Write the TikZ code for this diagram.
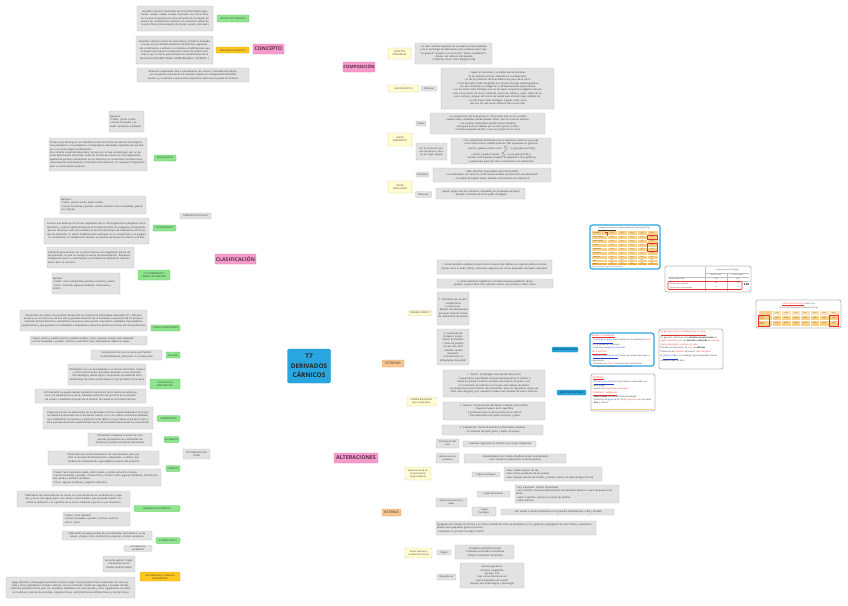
\documentclass[tikz,border=0pt]{standalone}
\usepackage{fontspec}
\setmainfont{Open Sans}
\usetikzlibrary{calc}
\pgfdeclarelayer{bg}
\pgfsetlayers{bg,main}
\definecolor{txt}{HTML}{333333}
\definecolor{linec}{HTML}{BBBBBB}
\definecolor{gfill}{HTML}{E2E2E2}
\definecolor{gbord}{HTML}{BDBDBD}
\definecolor{grf}{HTML}{8FE68F}
\definecolor{grb}{HTML}{5DBF5D}
\definecolor{yef}{HTML}{FFFCD2}
\definecolor{yeb}{HTML}{D6CF98}
\definecolor{orf}{HTML}{F9C68E}
\definecolor{orb}{HTML}{DDA060}
\definecolor{auf}{HTML}{FFC71F}
\definecolor{aub}{HTML}{DDA500}
\definecolor{pkf}{HTML}{F59BCA}
\definecolor{pkb}{HTML}{DE7DB2}
\definecolor{pkt}{HTML}{5A2E4C}
\definecolor{bluef}{HTML}{29A6DF}
\definecolor{blueb}{HTML}{1E8FC4}
\definecolor{tabor}{HTML}{F8CF86}
\definecolor{tabor2}{HTML}{F0AE3C}
\definecolor{redc}{HTML}{E8312A}
\definecolor{linkb}{HTML}{2040D0}
\newcommand\mmlink[3]{\draw[conn] (#1.center) .. controls (#1.center |- #2.#3) .. (#2.#3);}
\newcommand\tnytxt{\fontsize{2.4}{3.4}\selectfont}
\begin{document}
\begin{tikzpicture}[x=1pt,y=-1pt,
  conn/.style={draw=linec, line width=0.4pt},
  mm/.style={rounded corners=1.2pt, line width=0.35pt, text=txt},
  gbox/.style={mm, draw=gbord, fill=gfill, inner xsep=1pt, inner ysep=0.6pt, font=\tnytxt, align=center},
  gboxl/.style={gbox, align=left},
  wh/.style 2 args={text width=#1pt, minimum height=#2pt},
  sz/.style 2 args={minimum width=#1pt, minimum height=#2pt},
  lab/.style={mm, inner sep=0.4pt, font=\fontsize{2.3}{2.9}\selectfont, align=center},
  glab/.style={lab, draw=grb, fill=grf},
  ylab/.style={lab, draw=yeb, fill=yef},
  olab/.style={lab, draw=orb, fill=orf, font=\fontsize{3.3}{4}\selectfont},
  aulab/.style={lab, draw=aub, fill=auf},
  slab/.style={lab, draw=gbord, fill=gfill},
  pink/.style={mm, draw=pkb, fill=pkf, inner sep=0.5pt, text=pkt},
  blab/.style={lab, draw=blueb, fill=bluef, text=black},
  panel/.style={draw=gbord, line width=0.9pt, rounded corners=2pt, fill=white, inner sep=0pt},
  ptxt/.style={font=\fontsize{2.1}{2.9}\selectfont, text=txt, align=left, inner sep=0pt, anchor=north west},
]
\useasboundingbox (0,0) rectangle (848,605);
\fill[white] (0,0) rectangle (848,605);

% ---------- centre
\node[rounded corners=2pt, fill=bluef, draw=blueb, line width=0.3pt, minimum width=42pt, minimum height=34pt, align=center,
  font=\fontsize{6.4}{9.6}\selectfont\bfseries, text=black!85] (t7) at (309,366) {T7\\DERIVADOS\\CÁRNICOS};

% ---------- CONCEPTO
\node[pink, sz={31}{10}, font=\fontsize{5.1}{6}\selectfont\bfseries] (concepto) at (268.5,49) {CONCEPTO};
\node[glab, sz={32}{7}] (prodc) at (233,18.5) {PRODUCTOS CÁRNICOS};
\node[aulab, sz={33}{6}] (prepc) at (232.5,50) {PREPARADOS CÁRNICOS};
\node[gbox, wh={74}{25}] (a1) at (175,18.5) {derivados cárnicos resultantes de la transformación (ppalmente. secado, salado, curado, marinado, etc.) de la carne, en los que la superficie de corte del producto ha dejado de poseer las características tisulares y la estructura celular de la carne fresca (tiene aspecto de cocido, curado, marinado)};
\node[gbox, wh={75}{28}] (a2) at (174.5,50) {derivados cárnicos a base de carne fresca, incluida la troceada, a la que se han añadido productos alimenticios (vegetales, sal), condimentos o aditivos, o sometida a modificaciones que no basten para alterar la estructura interna de la fibra muscular ni, por lo tanto, para eliminar las características de la carne fresca (CRUMB STEAKS, HAMBURGUESAS, CHORIZOS...)};
\node[gbox, wh={110}{14}] (a3) at (193,75) {alimentos preparados total o parcialmente con carnes o menudencias (despojos, incluyendo vísceras) de los animales citados en el Reglamento 853/2004 (Anexo I) y sometidos a operaciones específicas antes de su puesta al consumo};

% ---------- COMPOSICION
\node[pink, sz={30}{10}, font=\fontsize{4.3}{5}\selectfont\bfseries] (compo) at (359,67) {COMPOSICIÓN};
\node[ylab, sz={23}{11}] (asp) at (399.5,53.5) {ASPECTOS\\PRINCIPALES};
\node[ylab, sz={31}{7}] (vplas) at (403.5,88.5) {VALOR PLÁSTICO};
\node[ylab, sz={24}{13}] (vener) at (400,139.5) {VALOR\\ENERGÉTICO};
\node[ylab, sz={24}{12}] (vreg) at (400,187) {VALOR\\REGULADOR};
\node[gbox, wh={75}{21}] (aspb) at (453.5,53.5) {• El valor nutritivo depende de la materia prima empleada y de la tecnología de fabricación, pero podemos decir que ``en general'' respecto a la carne (son ``menos saludables''):\\• Grasas, sal, aditivos más elevado\\• Proteínas menor Valor Biológico (VB)};
\node[slab, sz={16}{5}] (prot) at (429,88.5) {Proteínas};
\node[gbox, wh={111}{41}] (protb) at (497.5,88.5) {• Según el contenido y la calidad de las proteínas de las materias primas utilizadas en su elaboración\\• El VB de proteínas cárnicas difiere muy poco de la carne\\• Si los derivados están integrados por vísceras de baja calidad (gelatina, con alto contenido en colágeno) su VB baja bastante (baja calidad)\\• Los de menor Valor Biológico son los de tejido conjuntivo (colágeno) más elevado como carnes de tocino, fiambres, carnes de cabeza y cuello, tripas de vacuno, corteza y lengua; así mismo las pastas para embutir (baja calidad), etc.\\• Los de mayor Valor Biológico: hígado, riñón, lomo, que son los que menos difieren de la carne (VB)};
\node[slab, sz={10}{5}] (gras) at (421,123.5) {Grasas};
\node[gbox, wh={113}{21}] (grasb) at (487.5,123.5) {• La composición del \% de grasa en 100 g sobre todo en los curados muestra altas cantidades donde pueden variar más los \% de las mezclas\\• Los curados madurados picados tienen bastante más grasa que los tratados por el calor (jamón cocido)\\• Presencia elevada de AGS, como en la grasa de la carne};
\node[slab, sz={31}{17}, text width=29pt] (hc) at (431.5,151.5) {HC: en forma de harinas, almidones y féculas de origen vegetal};
\node[gbox, wh={98}{26}] (hcb) at (501,151) {• Son ingredientes facultativos de los derivados cárnicos cuya presencia indica menor calidad (máximo 10\% expresado en glucosa)\\• Jamón y paleta cocidos extra: $\leq$ 1,5 g de glucosa/100 g\\• Jamón y paleta cocidos: $\leq$ 3 g de glucosa/100 g\\• Actúan como ligantes (impiden la separación de la gelatina) y espesantes (para dar más consistencia a los productos)};
\node[slab, sz={13}{5}] (vit) at (422.5,174.5) {Vitaminas};
\node[gbox, wh={116}{14}] (vitb) at (492,175) {• Más vitaminas liposolubles que hidrosolubles\\• Los embutidos con carne de cerdo tienen elevada concentración de vitamina B1\\• Los patés de hígado tienen elevada concentración de vitamina A};
\node[slab, sz={16}{6}] (minr) at (423.5,194.5) {Minerales};
\node[gbox, wh={87}{11}] (minb) at (480.5,193.5) {• Mayor proporción de sustancias minerales por la elevada sal (NaCl)\\• Elevado contenido de Fe en patés de hígado};

% ---------- CLASIFICACION
\node[pink, sz={41}{10}, font=\fontsize{5.2}{6}\selectfont\bfseries] (clasif) at (235.5,259) {CLASIFICACIÓN};
\node[slab, sz={31}{6}] (tpc) at (195.5,216) {TRATADOS POR CALOR};
\node[slab, sz={27}{10}] (ntpc) at (196.5,454) {NO TRATADOS POR\\CALOR};
\node[glab, sz={22}{6}] (ester) at (165,158) {ESTERILIZADOS};
\node[glab, sz={23}{6}] (paste) at (164.5,228) {PASTEURIZADOS};
\node[glab, sz={32}{10}] (coct) at (154,275) {CON TRATAMIENTO\\TÉRMICO INCOMPLETO};
\node[gboxl, wh={33}{21}] (esej) at (126.5,121.5) {Ejemplos:\\• Platos: jamón cocido\\• Carnes troceadas y picadas: productos enlatados};
\node[gboxl, wh={96}{33}] (esdef) at (98,154.5) {Proceso que destruye en los alimentos todas las formas de vida de microorganismos patógenos o no patógenos, a temperaturas adecuadas, aplicadas de una sola vez o en varias etapas (tindalización)\\En el ámbito industrial alimentario: proceso por el que se destruyen, por un periodo determinado de tiempo, todas las formas de vida de los microorganismos capaces de producir alteraciones en los alimentos en condiciones normales de almacenamiento (esterilización comercial); estos alimentos no requieren refrigeración para su conservación posterior};
\node[gboxl, wh={84}{18}] (paej) at (103,205) {Ejemplos:\\• Platos: jamón cocido, paleta cocida\\• Carnes troceadas y picadas: pastas cárnicas como mortadelas, galantinas, chóped};
\node[gbox, wh={103}{26}] (padef) at (96.5,231) {Proceso que destruye las formas vegetativas de los microorganismos patógenos de los alimentos, y reduce significativamente la microbiota banal (no patógena), consiguiendo que los alimentos sean más estables en función del tiempo de tratamiento, de forma que los alimentos no sufren modificaciones esenciales en su composición y se asegura su conservación en refrigeración durante un periodo de tiempo no inferior a 30 días};
\node[gboxl, wh={85}{21}] (codef) at (90.5,257.5) {Suficiente para alcanzar, en su parte interna, una coagulación parcial de las proteínas, sin que se consiga un efecto de pasteurización. Requieren refrigeración para su conservación y normalmente tratamiento culinario previo para su consumo};
\node[gboxl, wh={66}{21}] (coej) at (86,283.5) {Ejemplo:\\• Platos: lomo embuchado, panceta o lechona y bacon\\• Otros: morcillas, algunas butifarras, morteruelo y lechón};

\node[glab, sz={29}{6}] (cm) at (165.5,328) {CURADOS-MADURADOS};
\node[gbox, wh={125}{21}] (cmdef) at (83.5,320.5) {Tratamiento de curado con posterior desecación en condiciones ambientales adecuadas (Tª y HR) para provocar, en el transcurso de una lenta y gradual reducción de la humedad, la evolución de los procesos naturales de fermentación o enzimáticos necesarios para aportar al producto cualidades organolépticas características y que garantiza su estabilidad a temperatura ambiente durante el proceso de comercialización};
\node[gboxl, wh={115}{9}] (cmej) at (88.5,340.5) {• Piezas: jamón y paleta o jamón y paleta curados, cecina, panceta curada, lacón adobado\\• Carnes troceadas o picadas: chorizos, salchichón, fuet, sobrasada de Mallorca, salami};
\node[glab, sz={14}{6}] (sal) at (173,355) {SALAZÓN};
\node[gbox, wh={69}{10}] (saldef) at (126.5,355) {Incorporación de sal a la carne para facilitar su deshidratación y favorecer su conservación};
\node[glab, sz={30}{10}] (cur) at (165,384) {CURADOS (SIN\\MADURACIÓN)};
\node[gbox, wh={76}{21}] (curdef) at (107,374.5) {Tratamiento con sal, acompañada o no del uso de nitritos, nitratos y otros componentes, que debe responder a una reducción microbiológica, dando lugar a compuestos procedentes de la combinación de estos componentes con las proteínas de la carne};
\node[gbox, wh={109}{14}] (curdef2) at (90.5,396) {El tratamiento se puede realizar mediante la aplicación de la mezcla de curado en seco a la superficie de la carne, mediante inmersión de la misma en la solución de curado o mediante inyección de la solución de curado en las piezas cárnicas};
\node[glab, sz={23}{6}] (ferm) at (168.5,418.5) {FERMENTADOS};
\node[gbox, wh={108}{22}] (fermdef) at (98,418) {Etapa del proceso de elaboración de los derivados cárnicos curado-madurados en la que se favorece el desarrollo de la microbiota natural, con o sin cultivos iniciadores añadidos, que metabolizan los azúcares y producen ácido láctico, lo que reduce el pH de la carne y hace que ésta desarrolle características típicas (fermentado) favoreciendo su conservación};
\node[glab, sz={15}{6}] (ahu) at (171.5,439.5) {AHUMADOS};
\node[gbox, wh={62}{13}] (ahudef) at (120,439.5) {Tratamiento mediante la acción de compuestos procedentes de combustión de maderas y hierbas aromáticas autorizadas};
\node[glab, sz={14}{6}] (ore) at (173,468.5) {OREADOS};
\node[gbox, wh={109}{14}] (oredef) at (103.5,458) {Tratamiento de secado-maduración de corta duración, para permitir un proceso de fermentación o desecación, o ambos, que confiere las características organolépticas propias del producto};
\node[gboxl, wh={107}{17}] (oreej) at (106.5,477.5) {• Piezas: lacón, panceta oreada, lacón oreado y costilla de lacón o lacoeta\\• Carnes troceadas y picadas: chorizo fresco, chorizo criollo, algunas butifarras, morcilla oreada, bandal y butifarra andaluza\\• Otros: algunas butifarras y algunas salchichas};
\node[glab, sz={46}{6}] (mar) at (157,508.5) {MARINADOS-ADOBADOS};
\node[gbox, wh={111}{16}] (mardef) at (73.5,499) {Tratamiento de maceración de las carnes con una mezcla de sal, condimentos y especias, y en su caso agua, grasa, vino, ácido u otros líquidos, que se puede realizar mediante la aplicación a la superficie de la carne, mediante inyección o por inmersión};
\node[gboxl, wh={65}{14}] (marej) at (96.5,519) {• Piezas: lomo adobado\\• Carnes troceadas o picadas: pinchos morunos\\• Otros: zorza};
\node[glab, sz={24}{6}] (esc) at (168,540.5) {ESCABECHADOS};
\node[gbox, wh={88}{9}] (escdef) at (107,535.5) {Elaboración en agua potable de sal comestible, adicionada o no, de azúcar, vinagre, otros condimentos, especias y demás sustancias};
\node[gbox, wh={26}{5}] (escej) at (138,548.5) {conservas en escabeche};
\node[aulab, sz={40}{9}] (nos) at (160,576.5) {NO SOMETIDOS A NINGÚN\\TRATAMIENTO};
\node[gbox, wh={30}{16}] (nosdef) at (119,564) {No se les aplican ningún tratamiento de los citados anteriormente};
\node[gbox, wh={127}{21}] (nosej) at (70.5,587.5) {Aguja (fiambre), hamburguesa (producto fresco), burger meat (producto fresco elaborado con carne picada y otros ingredientes, incluidos aditivos, con un contenido mínimo de vegetales o cereales del 4\%), salchicha (producto fresco pero con envoltura, elaborado con carne picada y otros ingredientes, incluidos sal o aditivos), rellenos de morcillas, longaniza fresca, salchicha fresca, butifarra fresca y chorizo fresco};

% ---------- ALTERACIONES
\node[pink, sz={44}{10}, font=\fontsize{5.4}{6}\selectfont\bfseries] (alter) at (356,458) {ALTERACIONES};
\node[olab, sz={22}{7}] (ext) at (393,363.5) {EXTERNAS};
\node[olab, sz={19}{7}] (inte) at (391.5,512.5) {INTERNAS};
\node[ylab, sz={24}{5}] (oq) at (420,313) {ORIGEN QUÍMICO};
\node[ylab, sz={29}{9}] (ob) at (421.5,401.5) {ORIGEN BIOLÓGICO\\(por artrópodos)};
\node[gbox, wh={113}{14}] (q1) at (494.5,267) {1. Enranciamiento oxidativo (rotura de los enlaces más débiles, por ejemplo aditivos antioxidantes como el ácido cítrico): coloración negruzca con olores especiales del tejido conjuntivo};
\node[gbox, wh={114}{9}] (q2) at (495,283.5) {2. Enranciamiento superficial o rancidez excesiva (oxidación de las grasas): la grasa tiene color amarillo oscuro, olor picante y sabor rancio};
\node[gbox, wh={30}{33}] (q3) at (453,308.5) {3. Formación de un velo:\\• Estafilococos y micrococos\\• Empleo de temperaturas excesivas durante la fase de maduración del jamón};
\node[gbox, wh={30}{36}] (q4) at (453,347) {4. Formación de cristales o precipitación de fosfatos\\• Carne de porcino con pH alto, DFD\\• Elevado secado del jamón\\• Conservación en refrigeración del jamón};
\node[gbox, wh={100}{27}] (b1) at (494,383.5) {1. Ácaros: Tyrophagus casei (polilla del jamón)\\• Causa daños superficiales aunque puede penetrar al interior a través de grietas y orificios; produce una especie de polvo o serrín constituido por detritos en el suelo justo debajo del jamón\\• Su presencia provoca rechazo del consumidor, pero no representa riesgo sanitario (solo alergias) y por supuesto produce una pérdida del valor comercial};
\node[gbox, wh={100}{18}] (b2) at (494,411) {2. Moscas: forma larvaria del díptero Piophila casei (saltón)\\• Deposita huevos en la superficie\\• Y posteriormente la larva penetra en el interior\\• Para alimentarse de tejido muscular y graso};
\node[gbox, wh={99}{10}] (b3) at (492.5,430) {3. Coleópteros: forma larvaria de los Dermestes lardarius\\• Se alimenta de tejido graso y tejido conjuntivo};
\node[ylab, sz={26}{13}] (org) at (418,473.5) {Alteraciones de las\\Características\\Organolépticas};
\node[ylab, sz={27}{10}] (tir) at (418.5,553) {Pintas blancas o\\cristales de tirosina};
\node[slab, sz={23}{9}] (col) at (447.5,443.5) {Alteraciones del\\color};
\node[gbox, wh={71}{6}] (colb) at (499.5,444) {- manchas negruzcas en lonchas o en cortes sangrantes};
\node[slab, sz={23}{10}] (tex) at (447.5,458) {Alteraciones de\\la textura};
\node[gbox, wh={100}{9}] (texb) at (515,458.5) {- ablandamiento por curado insuficiente (por acortamiento o por tiempo de elaboración corto del jamón)};
\node[slab, sz={31}{9}] (olo) at (451.5,502.5) {alteraciones del olor y\\sabor};
\node[slab, sz={28}{5}] (otec) at (486,474.5) {origen tecnológico};
\node[gboxl, wh={96}{14}] (otecb) at (553,474) {- sabor salado (exceso de sal)\\- sabor rancio (oxidación de las grasas)\\- sabor amargo (exceso de nitratos y nitritos, exceso de sales de Mg en la sal)};
\node[slab, sz={33}{6}] (oali) at (493.5,494) {origen alimentario};
\node[gboxl, wh={102}{18}] (oalib) at (567,494) {- olor a pescado: harinas de pescado\\- olor a lechón: excesiva administración de derivados lácteos o suero de queso en la ración\\- sabor a sardina: piensos con grasa de sardina\\- sabor aceitoso};
\node[slab, sz={24}{9}] (ofis) at (484,511.5) {- origen\\fisiológico};
\node[gbox, wh={111}{6}] (ofisb) at (557.5,512) {- olor sexual o verraco (acúmulo en la grasa de androstenona, indol y escatol)};
\node[gboxl, wh={158}{14}] (tirb) at (516,528) {Agregados de cristales de tirosina y en menor medida de otros aa (fenilalanina y ác. glutámico) (agregados de color blanco y apariencia pétrea como pequeños granos de arroz)\\- Frecuente en jamones de larga curación};
\node[slab, sz={14}{5}] (tori) at (444,552.5) {Origen};
\node[gbox, wh={57}{14}] (torib) at (484.5,552) {- Proteólisis enzimática tisular\\- Proteólisis enzimática microbiana\\- Síntesis enzimática microbiana};
\node[slab, sz={19}{6}] (tdep) at (446.5,577) {Depende de:};
\node[gbox, wh={62}{25}] (tdepb) at (492,575.5) {Factores genéticos\\Porcinos congelados\\pH bajo, PSE\\baja concentración de sal\\baja temperatura de curado\\tiempos de curado largos y Tecnología};

% ---------- right panels
% table 1
\node[draw=bluef, line width=1.2pt, rounded corners=2.5pt, fill=white, minimum width=70pt, minimum height=44pt, inner sep=0pt] (tab1) at (625,247) {};
\node[font=\fontsize{1.8}{2}\selectfont, text=txt, inner sep=0pt] at (624,229) {\underline{Composición química} de algunos derivados cárnicos (g/100 g)};
\fill[tabor] (592,231) rectangle (658,265);
\fill[tabor2] (592,262) rectangle (658,265);
\foreach \yy in {235,239,243,247,251,255,259,262} \draw[white, line width=0.25pt] (592,\yy) -- (658,\yy);
\foreach \xx in {607,617,627,637,647} \draw[white, line width=0.25pt] (\xx,231) -- (\xx,265);
\foreach \yy/\lb in {233/Producto,237/Jamón curado,241/Jamón cocido,245/Chorizo,249/Salchichón,253/Mortadela,257/Salchichas,260.5/Paté,263.5/Carne} {
  \node[font=\fontsize{1.5}{1.7}\selectfont, text=txt, inner sep=0pt, anchor=west] at (593,\yy) {\lb};
  \foreach \xx in {612,622,632,642,652} \node[font=\fontsize{1.5}{1.7}\selectfont, text=txt, inner sep=0pt] at (\xx,\yy) {12,5};
}
\draw[redc, line width=0.5pt] (647.5,235.5) rectangle (657.5,239.5);
\draw[redc, line width=0.5pt] (647.5,243.5) rectangle (657.5,251);
\draw[redc, line width=0.5pt] (605,232) -- (607,232) -- (607,236);
\node[font=\fontsize{1.5}{1.7}\selectfont, text=txt, inner sep=0pt, anchor=west] at (592,267) {Fuente: Tablas de composición de alimentos};
% table 2
\node[panel, minimum width=86pt, minimum height=26pt] (tab2) at (708,279) {};
\draw[gbord, line width=0.25pt] (705,267) -- (705,291) (705,273) -- (749,273) (727,273) -- (727,291) (668,277) -- (749,277) (668,281) -- (749,281);
\node[font=\fontsize{1.8}{2}\selectfont, text=txt, inner sep=0pt] at (727,270) {Composición por 100 g (kg)};
\node[font=\fontsize{1.6}{2}\selectfont, text=txt, inner sep=0pt] at (716,275) {Jamón cocido};
\node[font=\fontsize{1.6}{2}\selectfont, text=txt, inner sep=0pt] at (738,275) {Jamón curado};
\node[font=\fontsize{1.6}{2}\selectfont, text=txt, inner sep=0pt, anchor=west] at (669,279) {Lípidos (triglicéridos)};
\node[font=\fontsize{1.6}{2}\selectfont, text=txt, inner sep=0pt] at (716,279) {15,06};
\node[font=\fontsize{1.6}{2}\selectfont, text=txt, inner sep=0pt] at (738,279) {9,56};
\draw[redc, line width=0.6pt, rounded corners=1pt] (668,281.5) rectangle (742,289.5);
\node[font=\fontsize{1.6}{2}\selectfont, text=txt, inner sep=0pt, anchor=west] at (670,283.5) {Ácidos grasos saturados};
\node[font=\fontsize{1.6}{2}\selectfont, text=txt, inner sep=0pt, anchor=west] at (670,287.5) {Ácidos grasos poliinsaturados};
\node[font=\fontsize{1.6}{2}\selectfont, text=txt, inner sep=0pt] at (716,283.5) {1,8};
\node[font=\fontsize{1.6}{2}\selectfont, text=txt, inner sep=0pt] at (716,287.5) {1,5};
\node[font=\fontsize{1.6}{2}\selectfont, text=txt, inner sep=0pt] at (738,283.5) {3,2};
\node[font=\fontsize{1.6}{2}\selectfont, text=txt, inner sep=0pt] at (738,287.5) {1,1};
\node[font=\fontsize{2.6}{3}\selectfont\bfseries, text=black, inner sep=0pt] at (746.5,285) {0,85};
% table 3
\node[panel, minimum width=85pt, minimum height=28pt] (tab3) at (798.5,314) {};
\node[font=\fontsize{1.8}{2.4}\selectfont, text=txt, inner sep=0pt, align=center] at (798.5,306) {\textcolor{redc}{\underline{COMPOSICIÓN EN ÁCIDOS}} GRASOS (\%)\\DE ALGUNOS DERIVADOS CÁRNICOS (g/100 g)};
\fill[tabor] (759,311) rectangle (838.5,326);
\fill[tabor!60] (772,311) rectangle (838.5,315);
\foreach \xx in {772,781.5,791,800.5,810,819.5,829} \draw[white, line width=0.25pt] (\xx,311) -- (\xx,326);
\draw[white, line width=0.25pt] (759,315) -- (838.5,315) (759,320.5) -- (838.5,320.5);
\foreach \xx/\lb in {776.75/C14:0,786.25/C16:0,795.75/C18:0,805.25/C16:1,814.75/C18:1,824.25/C18:2,833.75/AGS} \node[font=\fontsize{1.4}{1.6}\selectfont, text=txt, inner sep=0pt] at (\xx,313) {\lb};
\foreach \xx in {776.75,786.25,795.75,805.25,814.75,824.25,833.75} {
  \node[font=\fontsize{1.4}{1.6}\selectfont, text=txt, inner sep=0pt] at (\xx,318) {23,50};
  \node[font=\fontsize{1.4}{1.6}\selectfont, text=txt, inner sep=0pt] at (\xx,323.5) {41,20};
}
\node[font=\fontsize{1.4}{1.7}\selectfont, text=txt, inner sep=0pt, align=left, anchor=west] at (759.5,318) {Jamón\\cocido};
\node[font=\fontsize{1.4}{1.7}\selectfont, text=txt, inner sep=0pt, align=left, anchor=west] at (759.5,323.5) {Jamón\\curado};
\draw[redc, line width=0.5pt] (758.5,315.5) rectangle (769.5,326);
\draw[redc, line width=0.5pt] (829.5,315.5) rectangle (838,326);

% aspectos negativos / positivos
\node[blab, sz={26}{5}] (aneg) at (565,349.5) {ASPECTOS NEGATIVOS};
\node[blab, sz={29}{5}] (apos) at (571.5,392.5) {ASPECTOS POSITIVOS};
\node[draw=bluef, line width=1.2pt, rounded corners=2.5pt, fill=white, minimum width=64pt, minimum height=33pt, inner sep=0pt] (boxn) at (622,349.5) {};
\node[ptxt, text width=61pt] at (591.5,334.5) {\textcolor{redc}{\underline{GRASAS Y COLESTEROL}}\\• \textcolor{linkb}{\underline{Contenido en grasa}} muy elevado en los embutidos (\textcolor{redc}{hasta 50\%}) y elevado en colesterol\\• Predominio de \textcolor{linkb}{grasas saturadas}\\[0.6pt]\textcolor{redc}{\underline{SAL Y ADITIVOS}}\\• \textcolor{linkb}{\underline{Elevado contenido en sal}} (sodio), que puede favorecer la hipertensión\\• Presencia de \textcolor{redc}{nitritos}: formación de nitrosaminas\\• En algunos se añaden \textcolor{linkb}{harinas y féculas}};
\node[panel, minimum width=64pt, minimum height=40pt] (boxr) at (691,349) {};
\node[ptxt, text width=61pt, font=\fontsize{2.2}{3.1}\selectfont] at (660.5,331) {\textcolor{redc}{\underline{En general, menos saludables que la carne.}}\\[0.8pt]En general, contienen una \textbf{elevada concentración} de \textcolor{redc}{grasa saturada} y \textcolor{redc}{sal}; con \textbf{elevado contenido} en \textcolor{redc}{energía, grasas saturadas, colesterol} y \textcolor{redc}{sodio}\\[0.8pt]Elevada concentración de \textcolor{redc}{sal} y de \textbf{aditivos}\\[0.8pt]Presencia de \textcolor{redc}{proteínas} de menor \textcolor{redc}{valor biológico}\\[0.8pt]El \textcolor{linkb}{\underline{jamón curado}}, sin embargo, presenta grasas menos saturadas que la carne};
\node[panel, minimum width=64pt, minimum height=37pt] (boxp) at (623,392.5) {};
\node[ptxt, text width=61pt] at (592.5,376) {\textcolor{redc}{\underline{PROTEÍNAS}}\\• \textcolor{linkb}{\underline{Proteínas de alto VB}} en los productos elaborados con carne magra\\• Aporte de \textcolor{redc}{aminoácidos esenciales}\\[0.6pt]\textcolor{redc}{\underline{VITAMINAS Y MINERALES}}\\• \textbf{Hierro hemo} de elevada biodisponibilidad\\• Vitaminas del \textcolor{linkb}{grupo B} (B1, B12) y \textcolor{redc}{vitamina A} en los patés\\• \textbf{Zinc} y fósforo};
\fill[tabor] (593,408.5) rectangle (653,409.6);

% ---------- connectors
\begin{pgfonlayer}{bg}
\mmlink{t7}{concepto}{east}
\mmlink{t7}{compo}{west}
\mmlink{t7}{clasif}{east}
\mmlink{t7}{alter}{west}
\mmlink{concepto}{prodc}{east}
\mmlink{concepto}{prepc}{east}
\mmlink{concepto}{a3}{east}
\mmlink{prodc}{a1}{east}
\mmlink{prepc}{a2}{east}
\mmlink{compo}{asp}{west}
\mmlink{compo}{vplas}{west}
\mmlink{compo}{vener}{west}
\mmlink{compo}{vreg}{west}
\mmlink{asp}{aspb}{west}
\mmlink{vplas}{prot}{west}
\mmlink{prot}{protb}{west}
\mmlink{vener}{gras}{west}
\mmlink{gras}{grasb}{west}
\mmlink{vener}{hc}{west}
\mmlink{hc}{hcb}{west}
\mmlink{vreg}{vit}{west}
\mmlink{vit}{vitb}{west}
\mmlink{vreg}{minr}{west}
\mmlink{minr}{minb}{west}
\mmlink{clasif}{tpc}{east}
\mmlink{clasif}{ntpc}{east}
\mmlink{tpc}{ester}{east}
\mmlink{tpc}{paste}{east}
\mmlink{tpc}{coct}{east}
\mmlink{ester}{esej}{east}
\mmlink{ester}{esdef}{east}
\mmlink{paste}{paej}{east}
\mmlink{paste}{padef}{east}
\mmlink{coct}{codef}{east}
\mmlink{coct}{coej}{east}
\foreach \c in {cm,sal,cur,ferm,ahu,ore,mar,esc,nos} {\mmlink{ntpc}{\c}{east}}
\mmlink{cm}{cmdef}{east}
\mmlink{cm}{cmej}{east}
\mmlink{sal}{saldef}{east}
\mmlink{cur}{curdef}{east}
\mmlink{cur}{curdef2}{east}
\mmlink{ferm}{fermdef}{east}
\mmlink{ahu}{ahudef}{east}
\mmlink{ore}{oredef}{east}
\mmlink{ore}{oreej}{east}
\mmlink{mar}{mardef}{east}
\mmlink{mar}{marej}{east}
\mmlink{esc}{escdef}{east}
\mmlink{esc}{escej}{east}
\mmlink{nos}{nosdef}{east}
\mmlink{nos}{nosej}{east}
\mmlink{alter}{ext}{west}
\mmlink{alter}{inte}{west}
\mmlink{ext}{oq}{west}
\mmlink{ext}{ob}{west}
\foreach \c in {q1,q2,q3,q4} {\mmlink{oq}{\c}{west}}
\foreach \c in {b1,b2,b3} {\mmlink{ob}{\c}{west}}
\mmlink{inte}{org}{west}
\mmlink{inte}{tir}{west}
\mmlink{org}{col}{west}
\mmlink{org}{tex}{west}
\mmlink{org}{olo}{west}
\mmlink{col}{colb}{west}
\mmlink{tex}{texb}{west}
\mmlink{olo}{otec}{west}
\mmlink{olo}{oali}{west}
\mmlink{olo}{ofis}{west}
\mmlink{otec}{otecb}{west}
\mmlink{oali}{oalib}{west}
\mmlink{ofis}{ofisb}{west}
\mmlink{tir}{tirb}{west}
\mmlink{tir}{tori}{west}
\mmlink{tir}{tdep}{west}
\mmlink{tori}{torib}{west}
\mmlink{tdep}{tdepb}{west}
\draw[conn] (tab1.south) .. controls (tab1.south |- tab2.west) .. (tab2.west);
\draw[conn] (tab2.south) .. controls (tab2.south |- tab3.west) .. (tab3.west);
\draw[conn] (aneg.east) -- (boxn.west);
\draw[conn] (boxn.east) -- (boxr.west);
\draw[conn] (apos.east) -- (boxp.west);
\end{pgfonlayer}
\end{tikzpicture}
\end{document}
